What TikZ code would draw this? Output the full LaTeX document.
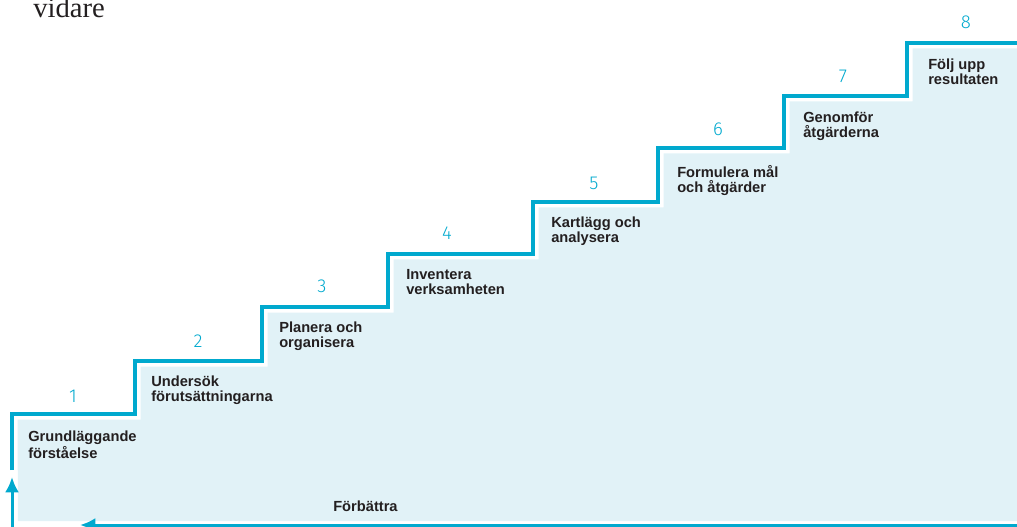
\documentclass[tikz,border=0pt]{standalone}
\usepackage{fontspec}
\setmainfont{Liberation Serif}
\newfontfamily\lblfont{Liberation Sans}
\newfontfamily\numfont{Fira Sans Light}
\usetikzlibrary{arrows.meta}
\definecolor{stepcyan}{RGB}{0,169,206}
\definecolor{stepfill}{RGB}{225,242,247}
\definecolor{lblgray}{RGB}{35,31,32}

\begin{document}
\begin{tikzpicture}[
    x = 0.75pt, y = -0.75pt,
    every node/.append style = {inner sep = 0},
    step lbl/.style = {align = left, anchor = north west, text = lblgray,
        font = \lblfont\bfseries\fontsize{11}{11.3}\selectfont},
    step num/.style = {text = stepcyan, font = \numfont\fontsize{14}{14}\selectfont},
    stair/.style = {draw = stepcyan, line width = 3pt},
    loop arrow/.style = {draw = stepcyan, line width = 2.25pt, -{Latex[length = 11.5pt, width = 10.5pt]}}
]
\useasboundingbox (0,0) rectangle (1017,527);
\clip (0,0) rectangle (1017,527);

% fill under the stairs
\fill[stepfill] (18,521)
    \foreach \x/\y/\nx in {12/414/135,135/361/262,262/307/388,388/254/533,
                           533/202/658,658/148/784,784/96/907,907/43/1030}
    { -- ({\x+5.5},{\y+5.5}) -- ({\nx+5.5},{\y+5.5}) }
    -- (1030,521) -- cycle;

% the stairs
\draw[stair] (12,470)
    \foreach \x/\y/\nx in {12/414/135,135/361/262,262/307/388,388/254/533,
                           533/202/658,658/148/784,784/96/907,907/43/1030}
    { -- (\x,\y) -- (\nx,\y) };

% step numbers and texts
\foreach \n/\nx/\ny/\lx/\ly/\txt in {
    1/73/396/28/431/{Grundläggande\\förståelse},
    2/198/341/151/376/{Undersök\\förutsättningarna},
    3/322/286/279/322/{Planera och\\organisera},
    4/447/233/406/269/{Inventera\\verksamheten},
    5/594/183/551/217/{Kartlägg och\\analysera},
    6/718/129/677/165/{Formulera mål\\och åtgärder},
    7/843/76/803/112/{Genomför\\åtgärderna},
    8/966/22/928/59/{Följ upp\\resultaten}}{
    \node[step num] (num\n) at (\nx,\ny) {\n};
    \node[step lbl] (lbl\n) at (\lx,\ly) {\txt};
}

% improve loop
\coordinate (bot right) at (1030,525);
\coordinate (bot left) at (80,525);
\coordinate (left low) at (12,540);
\coordinate (left high) at (12,477);
\draw[loop arrow] (bot right) -- (bot left);
\draw[loop arrow] (left low) -- (left high);
\node[step lbl, anchor = north west] (improve) at (333,501) {Förbättra};

\node[anchor = base west, text = lblgray, font = \fontsize{21.5}{21.5}\selectfont] (vidare) at (33,18) {vidare};

\end{tikzpicture}
\end{document}
